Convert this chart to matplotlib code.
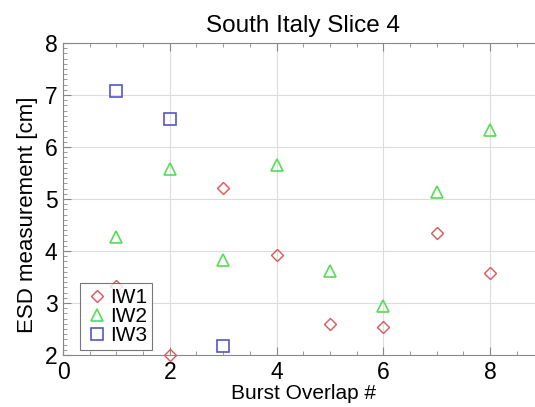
import matplotlib
matplotlib.use('Agg')
from matplotlib import pyplot as plt
from matplotlib.ticker import MultipleLocator

plt.rcParams['font.family'] = ['Liberation Sans', 'DejaVu Sans']

x_iw1 = [1, 2, 3, 4, 5, 6, 7, 8]
y_iw1 = [3.33, 2.0, 5.22, 3.92, 2.60, 2.53, 4.35, 3.57]
x_iw2 = [1, 2, 3, 4, 5, 6, 7, 8]
y_iw2 = [4.27, 5.57, 3.82, 5.65, 3.62, 2.95, 5.13, 6.32]
x_iw3 = [1, 2, 3]
y_iw3 = [7.08, 6.53, 2.18]

fig = plt.figure(figsize=(5.35, 4.07), dpi=100)
ax = fig.add_axes([0.1178, 0.1278, 0.898, 0.7666])

ax.plot(x_iw1, y_iw1, 'D', ms=6.5, mfc='none', mec='#e05555', mew=1.0, label='IW1', clip_on=False)
ax.plot(x_iw2, y_iw2, '^', ms=9, mfc='none', mec='#55dd55', mew=1.2, label='IW2', clip_on=False)
ax.plot(x_iw3, y_iw3, 's', ms=9, mfc='none', mec='#5555cc', mew=1.2, label='IW3', clip_on=False)

ax.set_xlim(0, 9)
ax.set_ylim(2, 8)
ax.xaxis.set_major_locator(MultipleLocator(2))
ax.xaxis.set_minor_locator(MultipleLocator(0.5))
ax.yaxis.set_major_locator(MultipleLocator(1))
ax.yaxis.set_minor_locator(MultipleLocator(0.1))
ax.grid(True, which='major', color='#dddddd', lw=0.8)
ax.set_axisbelow(True)

for s in ['left', 'bottom', 'top']:
    ax.spines[s].set_color('#888888')
ax.spines['right'].set_visible(False)
ax.tick_params(which='both', top=True, right=False, color='#888888', direction='in')
ax.tick_params(which='major', length=6, labelsize=16.5, pad=4)
ax.tick_params(which='minor', length=3)

ax.set_title('South Italy Slice 4', fontsize=17.5, pad=8)
ax.set_xlabel('Burst Overlap #', fontsize=15, labelpad=0)
ax.set_ylabel('ESD measurement [cm]', fontsize=16)
ax.yaxis.set_label_coords(-0.052, 0.45)

leg = ax.legend(loc='lower left', bbox_to_anchor=(0.035, 0.015), fontsize=15, fancybox=False,
                handletextpad=0.1, handlelength=1.1, labelspacing=0.0, borderpad=0.25,
                borderaxespad=0)
leg.get_frame().set_edgecolor('#555555')
leg.get_frame().set_linewidth(0.8)

fig.savefig('out.png', dpi=100)
